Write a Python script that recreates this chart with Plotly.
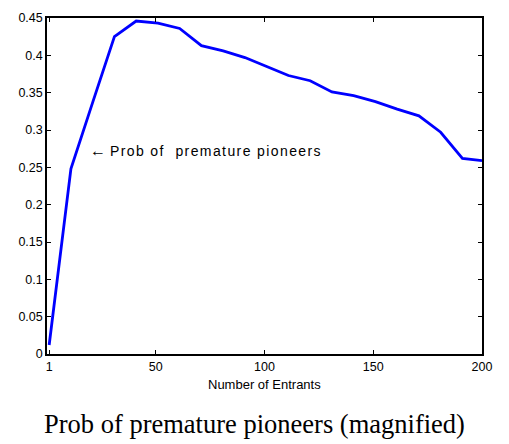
import plotly.graph_objects as go

# Number of entrants sampled and the probability of premature pioneers
entrants = [1, 11, 21, 31, 41, 51, 61, 71, 81, 91, 101, 111, 121, 131, 141,
            151, 161, 171, 181, 191, 200]
prob_premature = [0.012, 0.248, 0.337, 0.425, 0.446, 0.443, 0.436, 0.413, 0.406,
                  0.397, 0.385, 0.373, 0.366, 0.351, 0.346, 0.338, 0.328, 0.319,
                  0.297, 0.262, 0.259]

x_ticks = [1, 50, 100, 150, 200]
y_ticks = [0, 0.05, 0.1, 0.15, 0.2, 0.25, 0.3, 0.35, 0.4, 0.45]
y_tick_text = ["0", "0.05", "0.1", "0.15", "0.2", "0.25", "0.3", "0.35", "0.4", "0.45"]

fig = go.Figure()
fig.add_trace(go.Scatter(
    x=entrants, y=prob_premature, mode="lines",
    line=dict(color="#0000ff", width=2.8),
    showlegend=False,
))

axis_common = dict(
    showgrid=False, zeroline=False, showline=True, linecolor="black",
    linewidth=1.5, mirror="ticks", ticks="inside", ticklen=4,
    tickcolor="black", tickfont=dict(family="Liberation Sans", size=12.5, color="black"),
)
fig.update_xaxes(range=[0, 200], tickvals=x_ticks, ticktext=[str(t) for t in x_ticks],
                 **axis_common)
fig.update_yaxes(range=[0, 0.45], tickvals=y_ticks, ticktext=y_tick_text, **axis_common)

fig.add_annotation(
    x=19.0, y=0.273, xref="x", yref="y", xanchor="left", yanchor="middle",
    text="<span style='font-size:16px'>\u2190</span> "
         "<span style='letter-spacing:1.4px'>Prob of  premature pioneers</span>",
    showarrow=False,
    font=dict(family="Liberation Sans", size=14, color="black"),
)
fig.add_annotation(
    x=0.5, y=-0.09, xref="paper", yref="paper", xanchor="center", yanchor="middle",
    text="Number of Entrants", showarrow=False,
    font=dict(family="Liberation Sans", size=13, color="black"),
)
fig.add_annotation(
    x=0.476, y=-0.207, xref="paper", yref="paper", xanchor="center", yanchor="middle",
    text="Prob of premature pioneers (magnified)", showarrow=False,
    font=dict(family="Liberation Serif", size=26.5, color="black"),
)

fig.update_layout(
    width=509, height=444,
    margin=dict(l=47, r=27, t=11, b=90),
    plot_bgcolor="white", paper_bgcolor="white",
)

fig.write_html("out.html")
